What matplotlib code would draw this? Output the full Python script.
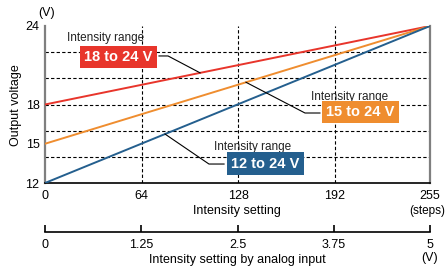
import numpy as np
import matplotlib.pyplot as plt

plt.rcParams['font.family'] = ['Liberation Sans', 'DejaVu Sans']

# data
steps = [0, 255]
red_v = [18, 24]
orange_v = [15, 24]
blue_v = [12, 24]
x_ticks = [0, 64, 128, 192, 255]
y_ticks = [12, 15, 18, 24]
y_grid = [14, 16, 18, 20, 22]
analog_ticks = [0, 1.25, 2.5, 3.75, 5]
analog_labels = ['0', '1.25', '2.5', '3.75', '5']

RED = '#e8352b'
ORANGE = '#ef8d2f'
BLUE = '#245f8e'

W, H = 446, 268
fig = plt.figure(figsize=(W / 100, H / 100), dpi=100)

def fx(px):
    return px / W

def fy(py):
    return 1 - py / H

ax = fig.add_axes([fx(45), fy(183), fx(430) - fx(45), fy(26) - fy(183)])
ax.set_xlim(0, 255)
ax.set_ylim(12, 24)

# grid
for g in y_grid:
    ax.axhline(g, color='black', lw=0.8, ls=(0, (3, 2)), zorder=1)
for g in x_ticks[1:-1]:
    ax.axvline(g, color='black', lw=0.8, ls=(0, (3, 2)), zorder=1)

ax.plot(steps, red_v, color=RED, lw=1.4, zorder=3)
ax.plot(steps, orange_v, color=ORANGE, lw=1.4, zorder=3)
ax.plot(steps, blue_v, color=BLUE, lw=1.4, zorder=3)

ax.set_xticks(x_ticks)
ax.set_yticks(y_ticks)
ax.tick_params(axis='x', length=0, pad=5, labelsize=9)
ax.tick_params(axis='y', length=0, pad=4, labelsize=9)
ax.spines['top'].set_visible(False)
ax.spines['left'].set_color('#7f7f7f')
ax.spines['left'].set_linewidth(1.6)
ax.spines['right'].set_color('#7f7f7f')
ax.spines['right'].set_linewidth(1.6)
ax.spines['bottom'].set_color('black')
ax.spines['bottom'].set_linewidth(1.2)

# annotations: (label, color, box center, text center, leader path)
notes = [
    ('18 to 24 V', RED, (48.4, 21.63), (40.4, 23.08),
     [75.5, 81.5, 102.7], [21.71, 21.71, 20.42]),
    ('15 to 24 V', ORANGE, (209, 17.43), (201.4, 18.57),
     [182.1, 172.2, 133.1], [17.35, 17.35, 19.70]),
    ('12 to 24 V', BLUE, (146, 13.49), (137.8, 14.75),
     [118.6, 108.6, 79.5], [13.45, 13.45, 15.74]),
]
for label, col, bc, tc, lx, ly in notes:
    ax.plot(lx, ly, color='black', lw=0.8, zorder=4, clip_on=False)
    ax.text(tc[0], tc[1], 'Intensity range', ha='center', va='center',
            fontsize=8.5, color='#222222', zorder=5)
    ax.text(bc[0], bc[1], label, ha='center', va='center', fontsize=10.5,
            fontweight='bold', color='white', zorder=6,
            bbox=dict(boxstyle='square,pad=0.3', fc=col, ec='none'))

fig.text(fx(47), fy(13), '(V)', ha='center', va='center', fontsize=9)
fig.text(fx(16), fy(105), 'Output voltage', ha='center', va='center',
         rotation=90, fontsize=9)
fig.text(fx(237), fy(211), 'Intensity setting', ha='center', va='center', fontsize=9)
fig.text(fx(445), fy(211), '(steps)', ha='right', va='center', fontsize=8.5)

# analog input axis
ax2 = fig.add_axes([fx(45), fy(232), fx(430) - fx(45), 0.001])
ax2.set_xlim(0, 5)
ax2.set_yticks([])
for s in ['top', 'left', 'right']:
    ax2.spines[s].set_visible(False)
ax2.spines['bottom'].set_linewidth(1.2)
ax2.set_xticks(analog_ticks)
ax2.set_xticklabels(analog_labels)
ax2.tick_params(axis='x', direction='in', length=5, width=1.2, pad=5, labelsize=9)
ax2.patch.set_visible(False)
fig.text(fx(237), fy(260), 'Intensity setting by analog input', ha='center',
         va='center', fontsize=9)
fig.text(fx(430), fy(258), '(V)', ha='center', va='center', fontsize=9)

fig.savefig('out.png', dpi=100)
